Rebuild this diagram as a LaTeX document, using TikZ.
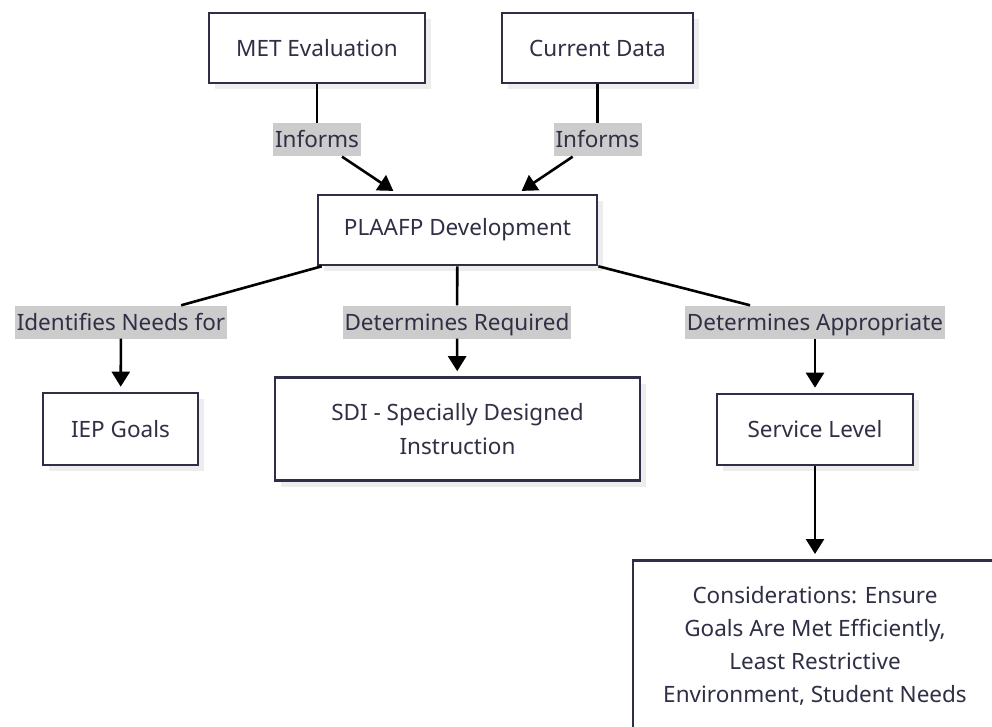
\documentclass[tikz,border=0pt]{standalone}
\usepackage{fontspec}
\setmainfont{Noto Sans}
\usetikzlibrary{arrows.meta,shadows,calc}
\definecolor{ink}{HTML}{2F2F45}
\definecolor{frame}{HTML}{2E2E48}
\definecolor{tagfill}{HTML}{CCCCCC}
\definecolor{shade}{HTML}{EDEDED}
\tikzset{
  box/.style={draw=frame, line width=2.6pt, fill=white, text=ink, align=center,
    drop shadow={shadow xshift=6pt, shadow yshift=-6pt, fill=shade, opacity=1}},
  tag/.style={fill=tagfill, text=ink, minimum height=33pt, inner xsep=2pt, inner ysep=0pt,
    text height=17pt, text depth=1pt},
  link/.style={line width=2.6pt, black},
  arrow/.style={link, -{Triangle[width=18pt,length=15pt]}, shorten >=5pt},
}
\begin{document}
\begin{tikzpicture}[x=1pt, y=-1pt, font=\fontsize{22.5}{34}\selectfont]
\useasboundingbox (0,0) rectangle (992,727);
\clip (0,0) rectangle (992,727);

% top sources
\node[box, minimum width=216pt, minimum height=70pt] (met) at (317,48) {MET Evaluation};
\node[box, minimum width=191pt, minimum height=70pt] (cur) at (597.5,48) {Current Data};

% central node
\node[box, minimum width=279pt, minimum height=70pt] (pla) at (457.5,230) {PLAAFP Development};

% outcomes
\node[box, minimum width=155pt, minimum height=72pt] (iep) at (120.5,429) {IEP Goals};
\node[box, minimum width=365pt, minimum height=103pt] (sdi) at (457.5,429) {SDI - Specially Designed\\Instruction};
\node[box, minimum width=196pt, minimum height=71pt] (svc) at (815,429.5) {Service Level};
\node[box, minimum width=364pt, minimum height=200pt, anchor=north] (con) at (815,559) {};
\node[text=ink, align=center, inner sep=0pt, font=\fontsize{22.5}{33}\selectfont] (contxt) at (815,646)
  {Considerations: Ensure\\Goals Are Met Efficiently,\\Least Restrictive\\Environment, Student Needs};

% edge labels
\node[tag] (inf1) at (317,140) {Informs};
\node[tag] (inf2) at (597.5,140) {Informs};
\node[tag] (idn) at (121,322) {Identifies Needs for};
\node[tag] (req) at (457,322) {Determines Required};
\node[tag] (app) at (815,322) {Determines Appropriate};

% connectors
\draw[link] (met) -- (inf1);
\draw[arrow] (inf1) -- ($(pla.north)+(-60,0)$);
\draw[link] (cur) -- (inf2);
\draw[arrow] (inf2) -- ($(pla.north)+(60,0)$);

\draw[link] ($(pla.south west)+(5,0)$) -- (idn);
\draw[arrow] (idn) -- (iep);
\draw[link] (pla) -- (req);
\draw[arrow] (req) -- (sdi);
\draw[link] (pla.south east) -- (app);
\draw[arrow] (app) -- (svc);
\draw[arrow] (svc) -- (con);
\end{tikzpicture}
\end{document}
